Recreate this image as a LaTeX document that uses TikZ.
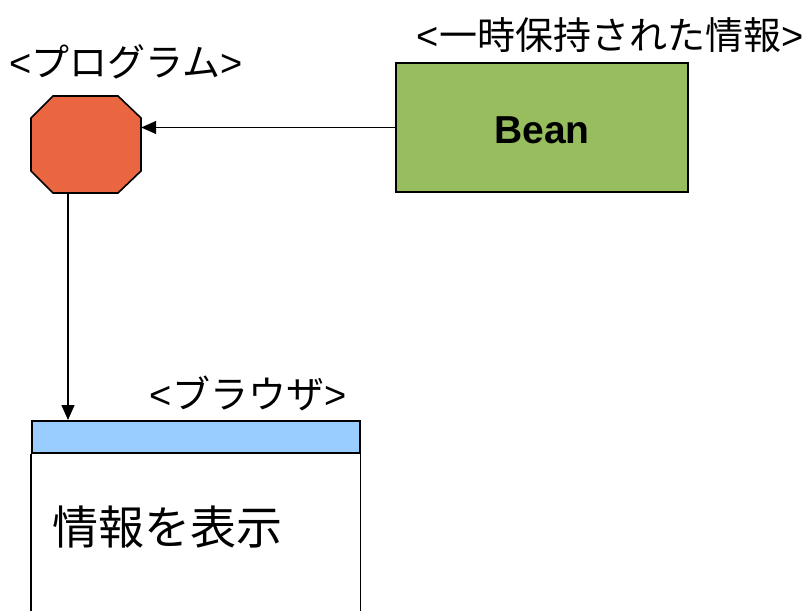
\documentclass[tikz,border=0pt]{standalone}
\usepackage{fontspec}
\setmainfont{Liberation Sans}
\newfontfamily\cjk{Noto Sans CJK JP}
\usetikzlibrary{arrows.meta,calc}
\definecolor{progred}{HTML}{EA6641}
\definecolor{beangreen}{HTML}{98BD5E}
\definecolor{barblue}{HTML}{99CCFF}
\begin{document}
\begin{tikzpicture}[x=1bp,y=-1bp,
  conn/.style={line width=1.3bp,-{Triangle[length=15bp,width=13bp]}},
  lbl/.style={inner sep=0pt,font=\fontsize{38bp}{42bp}\selectfont},
  boxline/.style={line width=1.6bp}]
\useasboundingbox (0,0) rectangle (809,611);
\clip (0,0) rectangle (809,611);
% program octagon
\node[minimum width=110bp,minimum height=97bp,inner sep=0pt] (prog) at (86,144.5) {};
\draw[boxline,fill=progred] (31,118)--(53,96)--(118,96)--(141,118)--(141,171)--(118,193)--(53,193)--(31,171)--cycle;
\node[lbl] (proglbl) at (126,62) {<\cjk プログラム\rmfamily>};
% Bean
\node[boxline,draw,fill=beangreen,minimum width=292bp,minimum height=129bp,inner sep=0pt] (bean) at (542,127.5) {};
\node[inner sep=0pt,font=\fontsize{39bp}{44bp}\selectfont\bfseries] (beantxt) at (542,130) {Bean};
\node[lbl] (beanlbl) at (610,35) {<\cjk 一時保持された情報\rmfamily>};
% browser
\node[boxline,draw,fill=barblue,minimum width=328bp,minimum height=32bp,inner sep=0pt,anchor=north west] (bar) at (31,420) {};
\draw[boxline] (bar.south west) -- ++(0,170);
\draw[boxline] (bar.south east) -- ++(0,170);
\node[lbl] (brlbl) at (248,393) {<\cjk ブラウザ\rmfamily>};
\node[inner sep=0pt,anchor=west,font=\cjk\fontsize{46bp}{50bp}\selectfont] (disp) at (52,527) {情報を表示};
% connectors
\draw[conn] (bean.west) -- (bean.west -| prog.east);
\draw[conn] ($(prog.south)+(-18,0)$) -- ($(bar.north west)+(37,0)$);
\end{tikzpicture}
\end{document}
